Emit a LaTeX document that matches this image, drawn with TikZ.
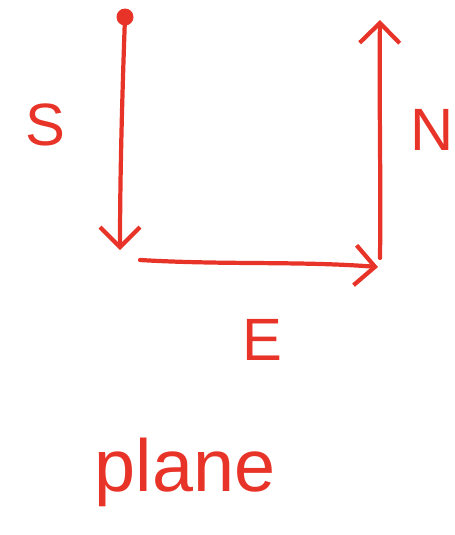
\documentclass[tikz,border=0pt]{standalone}
\usepackage{fontspec}
\setmainfont{Liberation Sans}
\usetikzlibrary{arrows.meta}
\definecolor{penred}{RGB}{232,52,40}
\tikzset{
  stroke/.style = {draw=penred, line width=2.4pt, line cap=round, line join=round,
                   -{Straight Barb[length=4mm, width=8mm, line width=2.4pt]}},
  letter/.style = {text=penred, font=\fontsize{34}{34}\selectfont, inner sep=0pt},
  word/.style   = {text=penred, font=\fontsize{42}{42}\selectfont, inner sep=0pt}
}

\begin{document}
\begin{tikzpicture}
\useasboundingbox (0,0) rectangle (9.1,-10.7);
\coordinate (start)  at (2.50,-0.34);
\coordinate (south)  at (2.40,-5.00);
\coordinate (eastA)  at (2.80,-5.20);
\coordinate (east)   at (7.56,-5.34);
\coordinate (northA) at (7.60,-5.16);
\coordinate (north)  at (7.60,-0.40);
\fill[penred] (start) circle (0.17);
\draw[stroke] (start) .. controls (2.44,-2.0) and (2.40,-3.6) .. (south);
\draw[stroke] (eastA) .. controls (4.5,-5.30) and (6.0,-5.22) .. (east);
\draw[stroke] (northA) .. controls (7.62,-3.6) and (7.58,-2.0) .. (north);
\node[letter] (labS) at (0.90,-2.50) {S};
\node[letter] (labN) at (8.64,-2.60) {N};
\node[letter] (labE) at (5.24,-6.80) {E};
\node[word]   (labP) at (3.70,-9.45) {plane};
\end{tikzpicture}
\end{document}
